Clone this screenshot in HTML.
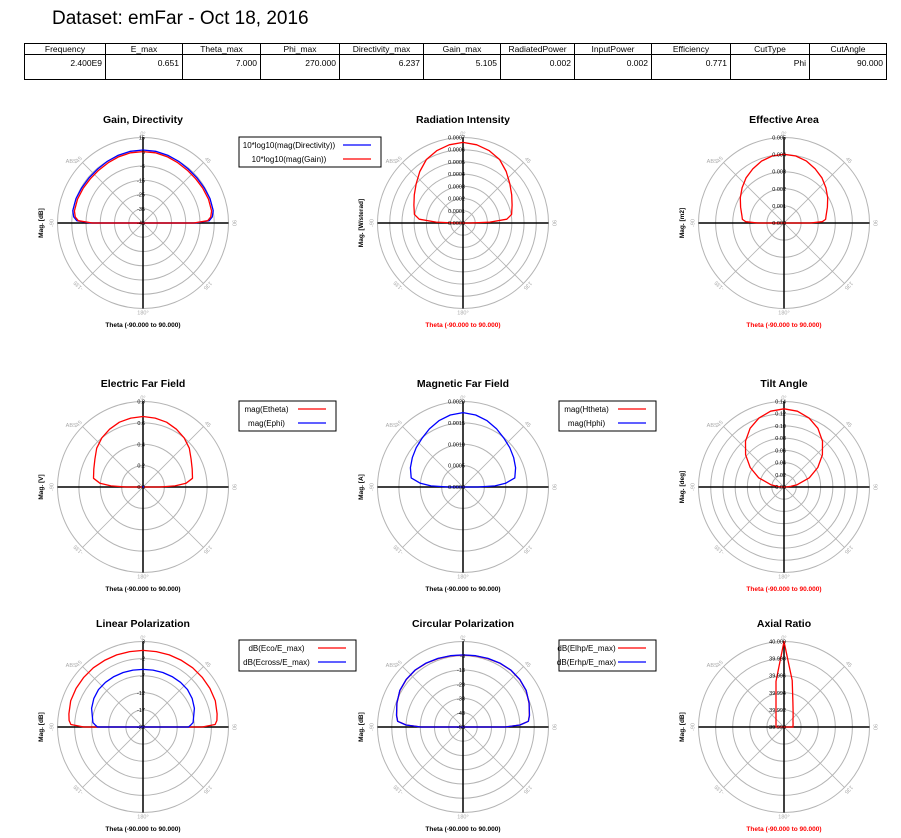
<!DOCTYPE html>
<html><head><meta charset="utf-8">
<style>
html,body{margin:0;padding:0;background:#fff;}
body{width:901px;height:838px;overflow:hidden;position:relative;font-family:"Liberation Sans",Arial,sans-serif;}
#title{position:absolute;left:52px;top:8px;font-size:19px;color:#000;}
table{position:absolute;left:24px;top:43px;border-collapse:collapse;font-size:8.5px;table-layout:fixed;width:862px;}
td{border:1px solid #000;padding:0 3px;overflow:hidden;white-space:nowrap;}
tr.h td{height:10px;text-align:center;}
tr.d td{height:21px;text-align:right;vertical-align:top;padding-top:3px;}
svg{position:absolute;left:0;top:0;}
</style></head>
<body>
<div id="title">Dataset: emFar - Oct 18, 2016</div>
<table>
<colgroup><col style="width:81px"><col style="width:77px"><col style="width:78px"><col style="width:79px"><col style="width:84px"><col style="width:77px"><col style="width:74px"><col style="width:77px"><col style="width:79px"><col style="width:79px"><col style="width:77px"></colgroup>
<tr class="h"><td>Frequency</td><td>E_max</td><td>Theta_max</td><td>Phi_max</td><td>Directivity_max</td><td>Gain_max</td><td>RadiatedPower</td><td>InputPower</td><td>Efficiency</td><td>CutType</td><td>CutAngle</td></tr>
<tr class="d"><td>2.400E9</td><td>0.651</td><td>7.000</td><td>270.000</td><td>6.237</td><td>5.105</td><td>0.002</td><td>0.002</td><td>0.771</td><td>Phi</td><td>90.000</td></tr>
</table>
<svg id="plots" width="901" height="838" xmlns="http://www.w3.org/2000/svg"></svg>
<script>
const TH=[-90,-88,-85,-80,-70,-60,-50,-40,-30,-20,-10,0,10,20,30,40,50,60,70,80,85,88,90];
const DIR=[-8.3,1.5,3.8,5.0,5.0,4.6,4.4,4.5,5.0,5.6,6.1,6.24,6.1,5.6,5.0,4.5,4.4,4.6,5.0,5.0,3.8,1.5,-8.3];
const GAIN=[-9.4,0.4,2.7,3.9,3.9,3.5,3.3,3.4,3.9,4.5,5.0,5.1,5.0,4.5,3.9,3.4,3.3,3.5,3.9,3.9,2.7,0.4,-9.4];
const RADI=[0.00006,0.00022,0.00036,0.000404,0.000428,0.00046,0.0005,0.00055,0.0006,0.00063,0.00065,0.00066,0.00065,0.00063,0.0006,0.00055,0.0005,0.00046,0.000428,0.000404,0.00036,0.00022,0.00006];
const EAREA=[0.00153,0.00224,0.00244,0.0025,0.0027,0.00295,0.0032,0.00345,0.00365,0.00385,0.00398,0.00402,0.00398,0.00385,0.00365,0.00345,0.0032,0.00295,0.0027,0.0025,0.00244,0.00224,0.00153];
const ETHETA=[0.157,0.3,0.405,0.47,0.49,0.52,0.565,0.6,0.625,0.645,0.655,0.66,0.655,0.645,0.625,0.6,0.565,0.52,0.49,0.47,0.405,0.3,0.157];
const EPHI=[0.003,0.003,0.003,0.003,0.003,0.003,0.003,0.003,0.003,0.003,0.003,0.003,0.003,0.003,0.003,0.003,0.003,0.003,0.003,0.003,0.003,0.003,0.003];
const HTHETA=[0.000005,0.000005,0.000005,0.000005,0.000005,0.000005,0.000005,0.000005,0.000005,0.000005,0.000005,0.000005,0.000005,0.000005,0.000005,0.000005,0.000005,0.000005,0.000005,0.000005,0.000005,0.000005,0.000005];
const HPHI=[0.00035,0.00075,0.001,0.00123,0.00131,0.00137,0.00143,0.00149,0.00157,0.00165,0.00171,0.00174,0.00171,0.00165,0.00157,0.00149,0.00143,0.00137,0.00131,0.00123,0.001,0.00075,0.00035];
const TILT=[0.001,0.0045,0.011,0.022,0.044,0.064,0.082,0.098,0.111,0.12,0.126,0.128,0.126,0.12,0.111,0.098,0.082,0.064,0.044,0.022,0.011,0.0045,0.001];
const ECO=[-4.7,-0.9,-0.3,0.0,0.5,0.6,0.6,0.6,0.5,0.45,0.4,0.4,0.4,0.45,0.5,0.6,0.6,0.6,0.5,0.0,-0.3,-0.9,-4.7];
const ECROSS=[-8.7,-8.1,-7.3,-7.0,-6.0,-5.4,-5.0,-4.95,-5.0,-5.05,-5.1,-5.15,-5.1,-5.05,-5.0,-4.95,-5.0,-5.4,-6.0,-7.0,-7.3,-8.1,-8.7];
const ELHP=[-23.5,-13.1,-7.0,-5.7,-3.7,-1.9,-1.1,-0.9,-1.3,-1.9,-2.3,-2.5,-2.3,-1.9,-1.3,-0.9,-1.1,-1.9,-3.7,-5.7,-7.0,-13.1,-23.5];
const ERHP=[-23.4,-13.0,-6.9,-5.6,-3.6,-1.8,-1.0,-0.8,-1.2,-1.8,-2.2,-2.4,-2.2,-1.8,-1.2,-0.8,-1.0,-1.8,-3.6,-5.6,-6.9,-13.0,-23.4];
const AXR=[39.99094,39.99094,39.99094,39.99095,39.991,39.99108,39.99122,39.99146,39.99188,39.99275,39.99541,40.0,39.99553,39.99306,39.99212,39.99165,39.99138,39.99122,39.99113,39.99107,39.99106,39.99106,39.99106];
const GAIN_TICKS=['15','5','-5','-15','-25','-35','-45'];
const RAD_TICKS=['0.0007','0.0006','0.0005','0.0004','0.0003','0.0002','0.0001','0.0000'];
const EA_TICKS=['0.005','0.004','0.003','0.002','0.001','0.000'];
const E_TICKS=['0.8','0.6','0.4','0.2','0.0'];
const H_TICKS=['0.0020','0.0015','0.0010','0.0005','0.0000'];
const TILT_TICKS=['0.14','0.12','0.10','0.08','0.06','0.04','0.02','0.00'];
const LIN_TICKS=['3','-2','-7','-12','-17','-22'];
const CIRC_TICKS=['7','-3','-13','-23','-33','-43','-53'];
const AR_TICKS=['40.000','39.998','39.996','39.994','39.992','39.990'];

const NS='http://www.w3.org/2000/svg';
const svg=document.getElementById('plots');
function mk(tag,attrs,parent,text){const e=document.createElementNS(NS,tag);for(const k in attrs)e.setAttribute(k,attrs[k]);if(text!==undefined)e.textContent=text;(parent||svg).appendChild(e);return e;}
const R=85.5;
function pt(c,v,th){let r=(v-c.min)/(c.max-c.min)*R;if(r<0)r=0;const a=th*Math.PI/180;return [c.cx+r*Math.sin(a),c.cy-r*Math.cos(a)];}

const charts=[
 {id:'gain',title:'Gain, Directivity',cx:143,cy:223,min:-45,max:15,ticks:GAIN_TICKS,yt:'Mag. [dB]',xc:'#000',series:[{n:'10*log10(mag(Directivity))',d:DIR,c:'#0000ff'},{n:'10*log10(mag(Gain))',d:GAIN,c:'#ff0000'}],leg:[239,137,142,30]},
 {id:'radiation',title:'Radiation Intensity',cx:463,cy:223,min:0,max:0.0007,ticks:RAD_TICKS,yt:'Mag. [W/sterad]',xc:'#ff0000',series:[{n:'U',d:RADI,c:'#ff0000'}]},
 {id:'effective-area',title:'Effective Area',cx:784,cy:223,min:0,max:0.005,ticks:EA_TICKS,yt:'Mag. [m2]',xc:'#ff0000',series:[{n:'Ae',d:EAREA,c:'#ff0000'}]},
 {id:'electric',title:'Electric Far Field',cx:143,cy:487,min:0,max:0.8,ticks:E_TICKS,yt:'Mag. [V]',xc:'#000',series:[{n:'mag(Etheta)',d:ETHETA,c:'#ff0000'},{n:'mag(Ephi)',d:EPHI,c:'#0000ff'}],leg:[239,401,97,30]},
 {id:'magnetic',title:'Magnetic Far Field',cx:463,cy:487,min:0,max:0.002,ticks:H_TICKS,yt:'Mag. [A]',xc:'#000',series:[{n:'mag(Htheta)',d:HTHETA,c:'#ff0000'},{n:'mag(Hphi)',d:HPHI,c:'#0000ff'}],leg:[559,401,97,30]},
 {id:'tilt',title:'Tilt Angle',cx:784,cy:487,min:0,max:0.14,ticks:TILT_TICKS,yt:'Mag. [deg]',xc:'#ff0000',series:[{n:'tilt',d:TILT,c:'#ff0000'}]},
 {id:'linear',title:'Linear Polarization',cx:143,cy:727,min:-22,max:3,ticks:LIN_TICKS,yt:'Mag. [dB]',xc:'#000',series:[{n:'dB(Eco/E_max)',d:ECO,c:'#ff0000'},{n:'dB(Ecross/E_max)',d:ECROSS,c:'#0000ff'}],leg:[239,640,117,31]},
 {id:'circular',title:'Circular Polarization',cx:463,cy:727,min:-53,max:7,ticks:CIRC_TICKS,yt:'Mag. [dB]',xc:'#000',series:[{n:'dB(Elhp/E_max)',d:ELHP,c:'#ff0000'},{n:'dB(Erhp/E_max)',d:ERHP,c:'#0000ff'}],leg:[559,640,97,31]},
 {id:'axial',title:'Axial Ratio',cx:784,cy:727,min:39.99,max:40.0,ticks:AR_TICKS,yt:'Mag. [dB]',xc:'#ff0000',series:[{n:'AR',d:AXR,c:'#ff0000'}]}
];

charts.forEach(c=>{
 const g=mk('g',{});
 
 
 const t=mk('text',{x:c.cx,y:c.cy-100,'text-anchor':'middle','font-size':'10.5','font-weight':'bold'},g,c.title);
 
 
 const n=c.ticks.length-1;
 for(let k=1;k<=n;k++){
  const ring=mk('circle',{cx:c.cx,cy:c.cy,r:R*k/n,fill:'none',stroke:'#b4b4b4','stroke-width':1},g);
  
  
 }
 [45,135].forEach(a=>{const r=a*Math.PI/180;const dx=R*Math.sin(r),dy=R*Math.cos(r);
  const l=mk('line',{x1:c.cx-dx,y1:c.cy+dy,x2:c.cx+dx,y2:c.cy-dy,stroke:'#b4b4b4','stroke-width':0.8},g);
  
  });
 const ax1=mk('line',{x1:c.cx-R,y1:c.cy,x2:c.cx+R,y2:c.cy,stroke:'#000','stroke-width':1.5},g);
 
 
 const ax2=mk('line',{x1:c.cx,y1:c.cy-R,x2:c.cx,y2:c.cy+R,stroke:'#000','stroke-width':1.5},g);
 
 
 c.series.forEach(s=>{
  const d=TH.map((th,i)=>{const p=pt(c,s.d[i],th);return (i?'L':'M')+p[0].toFixed(1)+' '+p[1].toFixed(1);}).join(' ')+' Z';
  const p=mk('path',{d:d,fill:'none',stroke:s.c,'stroke-width':1.3,'stroke-linejoin':'round'},g);
  
  
 });
 c.ticks.forEach((lab,k)=>{
  const tl=mk('text',{x:c.cx+2,y:c.cy-R*(n-k)/n+2,'text-anchor':'end','font-size':'5.5',fill:'#000'},g,lab);
  
  
 });
 const angs=[['0°',c.cx,c.cy-R-2,0],['90',c.cx+R+4,c.cy,90],['-90',c.cx-R-4,c.cy,-90],['180°',c.cx,c.cy+R+6,0],['45',c.cx+R*0.72+2,c.cy-R*0.72,45],['-45',c.cx-R*0.72-2,c.cy-R*0.72,-45],['135',c.cx+R*0.72+2,c.cy+R*0.72,135],['-135',c.cx-R*0.72-2,c.cy+R*0.72,-135],['ABS',c.cx-R*0.84,c.cy-R*0.7,0]];
 angs.forEach(a=>{
  const at=mk('text',{x:a[1],y:a[2],'text-anchor':'middle','font-size':'5.5',fill:'#aaa',transform:'rotate('+a[3]+' '+a[1]+' '+a[2]+')'},g,a[0]);
  
  
 });
 const yx=c.cx-100;
 const yt=mk('text',{x:yx,y:c.cy,'text-anchor':'middle','font-size':'6.5','font-weight':'bold',transform:'rotate(-90 '+yx+' '+c.cy+')'},g,c.yt);
 
 
 const xt=mk('text',{x:c.cx,y:c.cy+104,'text-anchor':'middle','font-size':'6.5','font-weight':'bold',fill:c.xc},g,'Theta (-90.000 to 90.000)');
 
 
 if(c.leg){
  const [lx,ly,lw,lh]=c.leg;
  const lg=mk('g',{},g);
  
  
  mk('rect',{x:lx,y:ly,width:lw,height:lh,fill:'#fff',stroke:'#000','stroke-width':1},lg);
  const ls=lx+lw-38;
  c.series.forEach((s,i)=>{
   const yy=ly+8+i*14;
   const et=mk('text',{x:(lx+4+ls-8)/2,y:yy+3,'text-anchor':'middle','font-size':'8'},lg,s.n);
   
   
   mk('line',{x1:ls,y1:yy,x2:ls+28,y2:yy,stroke:s.c,'stroke-width':1.3},lg);
  });
 }
});
</script>
</body></html>
